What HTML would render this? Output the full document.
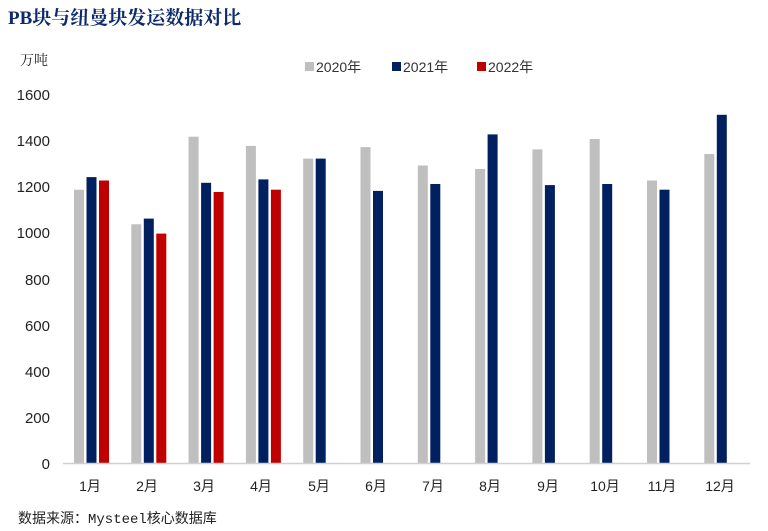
<!DOCTYPE html>
<html><head><meta charset="utf-8"><style>body{margin:0;background:#fff}svg{display:block}</style></head><body>
<svg width="768" height="531" xmlns="http://www.w3.org/2000/svg" font-family="'Liberation Sans','Noto Sans CJK SC',sans-serif">
<text x="8" y="24" font-size="19" font-weight="bold" fill="#0d2a6b" font-family="'Liberation Serif','Noto Serif CJK SC',serif">PB块与纽曼块发运数据对比</text>
<text x="20" y="65" font-size="14" fill="#222" font-family="'Noto Serif CJK SC',serif">万吨</text>
<g font-size="14" fill="#333">
<rect x="305" y="62" width="9" height="9" fill="#bfbfbf"/><text x="316" y="72">2020年</text>
<rect x="392" y="62" width="9" height="9" fill="#002060"/><text x="403" y="72">2021年</text>
<rect x="477" y="62" width="9" height="9" fill="#c00000"/><text x="488" y="72">2022年</text>
</g>
<g font-size="15" fill="#222" text-anchor="end">
<text x="50" y="100">1600</text><text x="50" y="146">1400</text><text x="50" y="192">1200</text><text x="50" y="238">1000</text><text x="50" y="285">800</text><text x="50" y="331">600</text><text x="50" y="377">400</text><text x="50" y="423">200</text><text x="50" y="469">0</text>
</g>
<g transform="translate(0,463) scale(1,-1)">
<g fill="#bfbfbf">
<rect x="74" y="0" width="10" height="273.3"/>
<rect x="131.3" y="0" width="10" height="238.7"/>
<rect x="188.6" y="0" width="10" height="326.3"/>
<rect x="245.9" y="0" width="10" height="317.1"/>
<rect x="303.2" y="0" width="10" height="304.4"/>
<rect x="360.5" y="0" width="10" height="315.9"/>
<rect x="417.8" y="0" width="10" height="297.5"/>
<rect x="475.1" y="0" width="10" height="294.0"/>
<rect x="532.4" y="0" width="10" height="313.6"/>
<rect x="589.7" y="0" width="10" height="324.0"/>
<rect x="647" y="0" width="10" height="282.5"/>
<rect x="704.3" y="0" width="10" height="309.0"/>
</g>
<g fill="#002060">
<rect x="86.5" y="0" width="10" height="285.9"/>
<rect x="143.8" y="0" width="10" height="244.4"/>
<rect x="201.1" y="0" width="10" height="280.2"/>
<rect x="258.4" y="0" width="10" height="283.6"/>
<rect x="315.7" y="0" width="10" height="304.4"/>
<rect x="373" y="0" width="10" height="272.1"/>
<rect x="430.3" y="0" width="10" height="279.0"/>
<rect x="487.6" y="0" width="10" height="328.6"/>
<rect x="544.9" y="0" width="10" height="277.9"/>
<rect x="602.2" y="0" width="10" height="279.0"/>
<rect x="659.5" y="0" width="10" height="273.3"/>
<rect x="716.8" y="0" width="10" height="348.2"/>
</g>
<g fill="#c00000">
<rect x="99" y="0" width="10" height="282.5"/>
<rect x="156.3" y="0" width="10" height="229.4"/>
<rect x="213.6" y="0" width="10" height="271.0"/>
<rect x="270.9" y="0" width="10" height="273.3"/>
</g>
</g>
<line x1="63" y1="463.5" x2="750" y2="463.5" stroke="#d0d0d0" stroke-width="1.5"/>
<g font-size="14" fill="#222" text-anchor="middle">
<text x="90" y="491">1月</text><text x="147" y="491">2月</text><text x="204" y="491">3月</text><text x="261" y="491">4月</text><text x="319" y="491">5月</text><text x="376" y="491">6月</text><text x="433" y="491">7月</text><text x="490" y="491">8月</text><text x="548" y="491">9月</text><text x="605" y="491">10月</text><text x="662" y="491">11月</text><text x="720" y="491">12月</text>
</g>
<text x="18" y="523" font-size="14" fill="#222" font-family="'Liberation Mono','Noto Sans CJK SC',monospace">数据来源：Mysteel核心数据库</text>
</svg>
</body></html>
